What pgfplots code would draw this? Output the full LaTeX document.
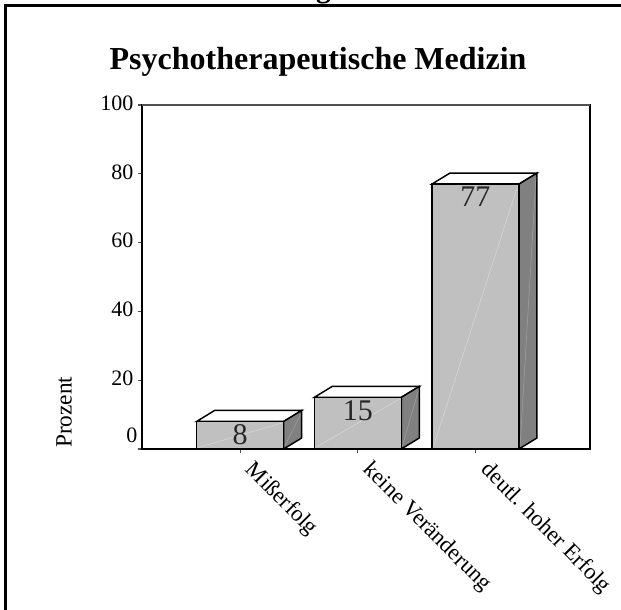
\documentclass[border=0pt]{standalone}
\usepackage{fontspec}
\setmainfont{Liberation Serif}
\usepackage{pgfplots}
\usepackage{pgfplotstable}
\pgfplotsset{compat=1.18}
\definecolor{barfront}{HTML}{C0C0C0}
\definecolor{barside}{HTML}{808080}
\definecolor{sheen}{HTML}{D8D8D8}
\definecolor{sidesheen}{HTML}{A0A0A0}
\definecolor{topline}{HTML}{505050}
\pgfplotstableread{
x y
0 8
1 15
2 77
}\bars
\begin{document}
\begin{tikzpicture}
\useasboundingbox (0,0) rectangle (465.75pt,457.5pt);
\begin{scope}
\clip (0,0) rectangle (465.75pt,457.5pt);
\node[anchor=base,font=\fontsize{22}{26}\selectfont\bfseries] at (242.5pt,459.5pt) {g};
\end{scope}
\draw[line width=1.9pt] (4.1pt,0) -- (4.1pt,453.2pt) -- (465.75pt,453.2pt);
\begin{axis}[
  at={(106.5pt,120.75pt)},anchor=south west,scale only axis,
  width=336pt,height=258pt,
  xmin=-0.834,xmax=2.974,ymin=0,ymax=100,
  xtick={0,1,2},
  xticklabels={Mißerfolg,keine Veränderung,deutl. hoher Erfolg},
  ytick={0,20,40,60,80,100},
  yticklabels={,20,40,60,80,100},
  extra y ticks={3.4},extra y tick labels={0},
  extra y tick style={major tick length=0pt},
  xtick pos=left,ytick pos=left,tick align=outside,
  major tick length=3pt,
  tick style={line width=0.8pt,topline},
  axis line style={line width=1.1pt,black},
  tick label style={font=\fontsize{16.5}{20}\selectfont},
  yticklabel style={yshift=1.5pt},
  xticklabel style={rotate=-45,anchor=north west,xshift=8.5pt,yshift=8.5pt,font=\fontsize{17}{20}\selectfont},
  ylabel={Prozent},
  every axis y label/.style={at={(axis description cs:-0.174,0.107)},rotate=90,anchor=center,font=\fontsize{17.5}{20}\selectfont},
  title={\bfseries Psychotherapeutische Medizin},
  every axis title/.style={at={(axis description cs:0.393,1.125)},anchor=center,font=\fontsize{24}{28}\selectfont},
  /pgf/number format/assume math mode=true,
]
% top faces
\addplot[fill=white,draw=black,line width=1.1pt] coordinates {(-0.37,8) (-0.217,11.2) (0.523,11.2) (0.37,8)} -- cycle;
\addplot[fill=white,draw=black,line width=1.1pt] coordinates {(0.63,15) (0.783,18.2) (1.523,18.2) (1.37,15)} -- cycle;
\addplot[fill=white,draw=black,line width=1.1pt] coordinates {(1.63,77) (1.783,80.2) (2.523,80.2) (2.37,77)} -- cycle;
% side faces
\addplot[fill=barside,draw=black,line width=1.1pt] coordinates {(0.37,0) (0.523,3.2) (0.523,11.2) (0.37,8)} -- cycle;
\addplot[fill=barside,draw=black,line width=1.1pt] coordinates {(1.37,0) (1.523,3.2) (1.523,18.2) (1.37,15)} -- cycle;
\addplot[fill=barside,draw=black,line width=1.1pt] coordinates {(2.37,0) (2.523,3.2) (2.523,80.2) (2.37,77)} -- cycle;
% front faces
\addplot[ybar,bar width=65.25pt,fill=barfront,draw=black,line width=1.1pt] table[x=x,y=y] {\bars};
% pale diagonals
\addplot[sheen,line width=0.4pt] coordinates {(-0.36,0.4) (0.36,7.6)};
\addplot[sheen,line width=0.4pt] coordinates {(0.64,0.4) (1.36,14.6)};
\addplot[sheen,line width=0.4pt] coordinates {(1.64,0.4) (2.36,76.6)};
\addplot[sidesheen,line width=0.4pt] coordinates {(0.38,1) (0.515,10)};
\addplot[sidesheen,line width=0.4pt] coordinates {(1.38,1) (1.515,17)};
\addplot[sidesheen,line width=0.4pt] coordinates {(2.38,1) (2.515,79)};
% value labels
\addplot[draw=none,nodes near coords,
  every node near coord/.style={anchor=center,yshift=-9.75pt,text=black!85,font=\fontsize{22.5}{24}\selectfont}]
  table[x=x,y=y] {\bars};
\draw[topline,line width=1.2pt] (rel axis cs:0,1) -- (rel axis cs:1,1);
\end{axis}
\end{tikzpicture}
\end{document}
